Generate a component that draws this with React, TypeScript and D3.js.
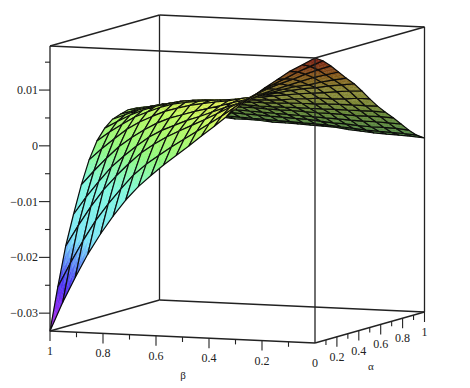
import React from 'react'
import * as d3 from 'd3'

// surface heights in units of 1e-4, one row per alpha (0 -> 1), columns run beta 1 -> 0
const zRows = [
  [-332, -280, -234, -191, -154, -121, -91, -66, -45, -25, -7, 11, 30, 48, 67, 87, 104, 121, 137, 153, 166, 179],
  [-257, -213, -172, -135, -104, -76, -50, -30, -13, 3, 18, 33, 48, 63, 79, 95, 109, 123, 135, 148, 159, 170],
  [-188, -150, -115, -84, -58, -35, -14, 2, 16, 28, 39, 50, 62, 74, 86, 99, 111, 121, 130, 140, 149, 157],
  [-135, -103, -74, -47, -26, -7, 10, 23, 33, 43, 51, 60, 69, 77, 86, 97, 106, 114, 122, 130, 136, 142],
  [-86, -60, -36, -14, 3, 18, 31, 41, 48, 55, 61, 67, 74, 80, 87, 95, 102, 108, 112, 118, 123, 127],
  [-45, -24, -5, 13, 27, 38, 48, 55, 61, 65, 69, 72, 77, 81, 86, 91, 96, 100, 103, 107, 110, 113],
  [-15, 2, 17, 31, 41, 50, 57, 61, 64, 67, 69, 71, 74, 77, 80, 83, 86, 88, 90, 93, 95, 96],
  [4, 17, 29, 39, 47, 53, 58, 61, 63, 64, 65, 66, 67, 68, 69, 72, 73, 75, 75, 76, 78, 78],
  [16, 25, 34, 42, 47, 51, 55, 56, 57, 57, 57, 58, 58, 58, 59, 60, 60, 61, 61, 61, 61, 61],
  [21, 28, 34, 40, 43, 45, 48, 49, 49, 48, 48, 47, 47, 47, 47, 47, 47, 47, 47, 47, 47, 46],
  [25, 29, 33, 36, 37, 39, 40, 40, 40, 39, 39, 38, 37, 37, 36, 35, 35, 34, 33, 33, 33, 32],
  [24, 26, 28, 29, 30, 30, 30, 30, 29, 28, 27, 26, 25, 24, 23, 22, 21, 20, 19, 19, 18, 17],
  [22, 22, 22, 21, 21, 20, 19, 19, 18, 17, 16, 15, 14, 13, 11, 9, 8, 6, 5, 5, 4, 2],
  [18, 15, 13, 12, 11, 9, 8, 7, 6, 5, 4, 3, 2, 1, 0, -2, -4, -6, -7, -8, -9, -11],
  [14, 10, 7, 5, 2, 1, -1, -1, -2, -4, -4, -5, -6, -7, -8, -11, -13, -15, -16, -17, -18, -20],
]
const zUnit = 1e-4

const zMajor = [-0.03, -0.02, -0.01, 0, 0.01]
const zMinor = [-0.025, -0.015, -0.005, 0.005, 0.015]
const betaMajor = [1, 0.8, 0.6, 0.4, 0.2]
const betaMinor = [0.9, 0.7, 0.5, 0.3, 0.1]
const betaLabels = ['1', '0.8', '0.6', '0.4', '0.2', '0']
const betaLabelAt = [1, 0.8, 0.6, 0.4, 0.2, 0]
const alphaMajor = [0.2, 0.4, 0.6, 0.8, 1]
const alphaMinor = [0.1, 0.3, 0.5, 0.7, 0.9]
const alphaLabels = ['0.2', '0.4', '0.6', '0.8', '1']
const zLabels = ['\u22120.03', '\u22120.02', '\u22120.01', '0', '0.01']

const zMin = -0.0332
const zMax = 0.0179

const betaX = d3.scaleLinear().domain([1, 0]).range([0, 265])
const betaY = d3.scaleLinear().domain([1, 0]).range([0, 12])
const alphaX = d3.scaleLinear().domain([0, 1]).range([0, 109.5])
const alphaY = d3.scaleLinear().domain([0, 1]).range([0, -31])
const zY = d3.scaleLinear().domain([zMin, zMax]).range([0, -285])

const project = (a: number, b: number, z: number): [number, number] => [
  50 + betaX(b) + alphaX(a),
  331 + betaY(b) + alphaY(a) + zY(z),
]

const hue = d3
  .scaleLinear<string>()
  .domain([-0.0332, -0.029, -0.025, -0.021, -0.017, -0.008, -0.002, 0.004, 0.007, 0.0095, 0.013, 0.0179])
  .range(['#b030e0', '#8a2cf0', '#4a30f0', '#5f8cf5', '#7de6f8', '#80f8e0', '#90f880', '#b8f860', '#e8f860', '#f8f860', '#f0a830', '#e03020'])
  .interpolate(d3.interpolateRgb)

const line = d3.line()
const n = zRows.length - 1
const m = zRows[0].length - 1
const alphaAt = d3.scaleLinear().domain([0, n]).range([0, 1])
const betaAt = d3.scaleLinear().domain([0, m]).range([1, 0])
const point = (j: number, i: number) => project(alphaAt(j), betaAt(i), zRows[j][i] * zUnit)

const SUB = 3 // fill shading steps inside one mesh cell

// smooth shading: a cell is filled in a few small patches, then outlined
function buildCell(j: number, i: number) {
  const z00 = zRows[j][i], z01 = zRows[j][i + 1], z10 = zRows[j + 1][i], z11 = zRows[j + 1][i + 1]
  const zAt = (s: number, t: number) =>
    d3.interpolate(d3.interpolate(z00, z01)(s), d3.interpolate(z10, z11)(s))(t) * zUnit
  const at = (s: number, t: number) => project(alphaAt(j + t), betaAt(i + s), zAt(s, t))
  const quad = [point(j, i), point(j, i + 1), point(j + 1, i + 1), point(j + 1, i)]
  const under = d3.polygonArea(quad) < 0
  const patches: { d: string; fill: string }[] = []
  for (let t = 0; t < SUB; t++) {
    for (let s = 0; s < SUB; s++) {
      const s0 = s / SUB, s1 = (s + 1) / SUB, t0 = t / SUB, t1 = (t + 1) / SUB
      const c = d3.rgb(hue(zAt((s0 + s1) / 2, (t0 + t1) / 2)))
      const fill = under ? c.darker(1.7).formatHex() : c.formatHex()
      patches.push({ d: line([at(s0, t0), at(s1, t0), at(s1, t1), at(s0, t1)])! + 'Z', fill })
    }
  }
  return { key: j + '-' + i, patches, outline: line(quad)! + 'Z' }
}

// painted back to front: far corner is alpha 1, beta 1
function buildCells() {
  const cells = []
  for (let j = n - 1; j >= 0; j--) {
    for (let i = 0; i < m; i++) cells.push(buildCell(j, i))
  }
  return cells
}

const edge = (a: [number, number, number], b: [number, number, number]) => line([project(...a), project(...b)])!

const backEdges = [
  edge([1, 1, zMin], [1, 1, zMax]),
  edge([0, 1, zMin], [1, 1, zMin]),
  edge([1, 1, zMin], [1, 0, zMin]),
  edge([1, 1, zMax], [1, 0, zMax]),
  edge([0, 1, zMax], [1, 1, zMax]),
]
const frontEdges = [
  edge([0, 1, zMin], [0, 1, zMax]),
  edge([0, 0, zMin], [0, 0, zMax]),
  edge([1, 0, zMin], [1, 0, zMax]),
  edge([0, 1, zMin], [0, 0, zMin]),
  edge([0, 0, zMin], [1, 0, zMin]),
  edge([0, 1, zMax], [0, 0, zMax]),
  edge([0, 0, zMax], [1, 0, zMax]),
]

const textStyle = { fontFamily: '"Liberation Serif", serif', fontSize: 12, fill: '#222' }

export default function App() {
  const cells = buildCells()
  const [zx] = project(0, 1, zMin)
  return (
    <svg width={470} height={388} style={{ position: 'absolute', left: 0, top: 0, background: '#fff' }}>
      <g stroke="#222" strokeWidth={1.3} fill="none">
        {backEdges.map((d, i) => <path key={i} d={d} />)}
      </g>
      <g>
        {cells.map(c => (
          <g key={c.key}>
            {c.patches.map((p, k) => <path key={k} d={p.d} fill={p.fill} stroke={p.fill} strokeWidth={0.4} />)}
            <path d={c.outline} fill="none" stroke="#0c0c0c" strokeWidth={1.2} strokeLinejoin="round" />
          </g>
        ))}
      </g>
      <g stroke="#222" strokeWidth={1.3} fill="none">
        {frontEdges.map((d, i) => <path key={i} d={d} />)}
      </g>

      {/* z axis */}
      <g stroke="#222" strokeWidth={1.1}>
        {zMajor.map(z => <line key={z} x1={zx - 11} x2={zx} y1={project(0, 1, z)[1]} y2={project(0, 1, z)[1]} />)}
        {zMinor.map(z => <line key={z} x1={zx - 5} x2={zx} y1={project(0, 1, z)[1]} y2={project(0, 1, z)[1]} />)}
      </g>
      <g style={textStyle} textAnchor="end">
        {zMajor.map((z, i) => (
          <text key={z} x={zx - 12} y={project(0, 1, z)[1] + 4}>{zLabels[i]}</text>
        ))}
      </g>

      {/* beta axis */}
      <g stroke="#222" strokeWidth={1.1}>
        {betaMajor.map(b => {
          const [x, y] = project(0, b, zMin)
          return <line key={b} x1={x} x2={x} y1={y} y2={y + 10} />
        })}
        {betaMinor.map(b => {
          const [x, y] = project(0, b, zMin)
          return <line key={b} x1={x} x2={x} y1={y} y2={y + 5} />
        })}
      </g>
      <g style={textStyle} textAnchor="middle">
        {betaLabelAt.map((b, i) => {
          const [x, y] = project(0, b, zMin)
          return <text key={b} x={x} y={y + 24}>{betaLabels[i]}</text>
        })}
        <text x={183} y={379} fontSize={11}>β</text>
      </g>

      {/* alpha axis */}
      <g stroke="#222" strokeWidth={1.1}>
        {alphaMajor.map(a => {
          const [x, y] = project(a, 0, zMin)
          return <line key={a} x1={x} x2={x} y1={y} y2={y + 10} />
        })}
        {alphaMinor.map(a => {
          const [x, y] = project(a, 0, zMin)
          return <line key={a} x1={x} x2={x} y1={y} y2={y + 5} />
        })}
      </g>
      <g style={textStyle} textAnchor="middle">
        {alphaMajor.map((a, i) => {
          const [x, y] = project(a, 0, zMin)
          return <text key={a} x={x} y={y + 24}>{alphaLabels[i]}</text>
        })}
        <text x={371} y={370} fontSize={11}>α</text>
      </g>
    </svg>
  )
}
